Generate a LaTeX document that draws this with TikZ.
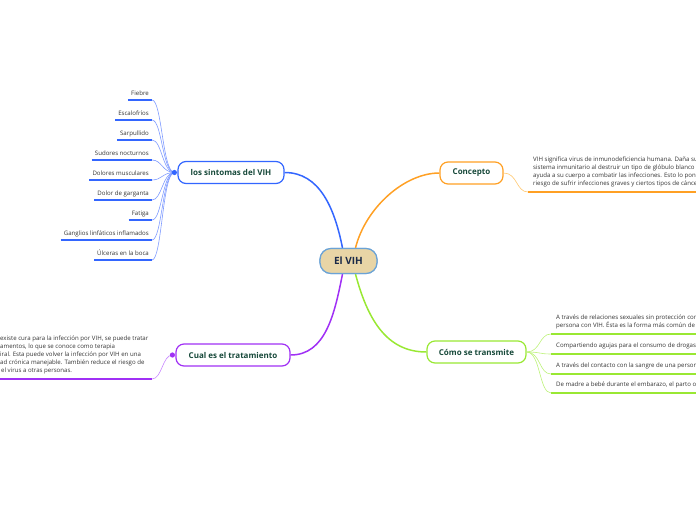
\documentclass[tikz,border=0pt]{standalone}
\usepackage{fontspec}
\setmainfont{Open Sans}
\definecolor{cblue}{HTML}{3366FF}
\definecolor{cbluel}{HTML}{7F9BFF}
\definecolor{corange}{HTML}{FFA024}
\definecolor{corangel}{HTML}{FFC870}
\definecolor{cpurple}{HTML}{A030F5}
\definecolor{cpurplel}{HTML}{C888FF}
\definecolor{cgreen}{HTML}{99E833}
\definecolor{cgreenl}{HTML}{BDF27A}
\definecolor{centerfill}{HTML}{E8D5A6}
\definecolor{centerdraw}{HTML}{6BA3D6}
\definecolor{titlegreen}{HTML}{17493A}
\definecolor{centertext}{HTML}{1A2A48}
\definecolor{textgray}{HTML}{333333}
\begin{document}
\begin{tikzpicture}[x=1pt,y=-1pt,
  topic/.style={draw, rounded corners=8pt, fill=white, line width=1.2pt,
    minimum height=22pt, inner sep=0pt, text=titlegreen,
    font=\fontsize{8}{9.5}\selectfont\bfseries},
  centre/.style={draw=centerdraw, fill=centerfill, rounded corners=11pt, line width=1.2pt,
    minimum width=57pt, minimum height=25pt, inner sep=0pt, text=centertext,
    font=\fontsize{10}{12}\selectfont\bfseries},
  sub/.style={font=\fontsize{6.1}{7.5}\selectfont, text=textgray, inner xsep=3pt,
    inner ysep=3pt, text height=4.4pt, text depth=1.5pt, anchor=south east},
  para/.style={font=\fontsize{6.1}{8.2}\selectfont, text=textgray, align=left,
    inner xsep=5pt, inner ysep=4.5pt, anchor=south west},
  mainline/.style={line width=1.5pt},
  childline/.style={line width=0.6pt},
  uline/.style={line width=1.4pt}]
\useasboundingbox (0,0) rectangle (696,520);
\clip (0,0) rectangle (696,520);

% central and main topics
\node[centre] (c) at (348.5,261) {El VIH};
\node[topic, draw=cblue, minimum width=106pt] (sint) at (231,172.5) {los sintomas del VIH};
\node[topic, draw=corange, minimum width=63pt] (conc) at (471.5,173) {Concepto};
\node[topic, draw=cpurple, minimum width=114pt] (trat) at (233,355) {Cual es el tratamiento};
\node[topic, draw=cgreen, minimum width=99pt] (trans) at (476.5,352) {Cómo se transmite};

\coordinate (cnw) at ([xshift=-6pt]c.north);
\coordinate (cne) at ([xshift=7pt]c.north);
\coordinate (csw) at ([xshift=-6pt]c.south);
\coordinate (cse) at ([xshift=7pt]c.south);

\draw[mainline, cblue] (cnw) .. controls +(-8,-40) and +(35,0) .. (sint.east);
\draw[mainline, corange] (cne) .. controls +(10,-40) and +(-35,0) .. (conc.west);
\draw[mainline, cpurple] (csw) .. controls +(-8,40) and +(35,0) .. (trat.east);
\draw[mainline, cgreen] (cse) .. controls +(12,45) and +(-40,0) .. (trans.west);
\node[centre] at (c) {El VIH};

% symptoms
\coordinate (sk) at ([xshift=-3pt]sint.west);
\node[sub] (s1) at (152,100) {Fiebre};
\node[sub] (s2) at (152,120) {Escalofríos};
\node[sub] (s3) at (152,140) {Sarpullido};
\node[sub] (s4) at (152,160) {Sudores nocturnos};
\node[sub] (s5) at (152,180) {Dolores musculares};
\node[sub] (s6) at (152,200) {Dolor de garganta};
\node[sub] (s7) at (152,220) {Fatiga};
\node[sub] (s8) at (152,240) {Ganglios linfáticos inflamados};
\node[sub] (s9) at (152,260) {Úlceras en la boca};
\foreach \n in {s1,s2,s3,s4,s5,s6,s7,s8,s9}{
  \draw[uline, cblue] (\n.south west) -- (\n.south east);
  \draw[childline, cbluel] (sk) .. controls +(-12,0) and +(10,0) .. (\n.south east);
}
\fill[cblue] (sk) circle (2.6pt);

% concept
\node[para] (ct) at (528,192) {VIH significa virus de inmunodeficiencia humana. Daña su\\
sistema inmunitario al destruir un tipo de glóbulo blanco que\\
ayuda a su cuerpo a combatir las infecciones. Esto lo pone\\
riesgo de sufrir infecciones graves y ciertos tipos de cáncer.};
\coordinate (ctend) at (700,192);
\draw[uline, corange] (ct.south west) -- (ctend);
\draw[childline, corangel] (conc.east) .. controls +(14,0) and +(-12,0) .. (ct.south west);

% treatment
\coordinate (tk) at ([xshift=-3pt]trat.west);
\node[para, inner xsep=0pt] (tt) at (0,379) {existe cura para la infección por VIH, se puede tratar\\
amentos, lo que se conoce como terapia\\
iral. Esta puede volver la infección por VIH en una\\
ad crónica manejable. También reduce el riesgo de\\
\hspace*{1pt}el virus a otras personas.};
\coordinate (ttend) at (152,379);
\draw[uline, cpurple] (tt.south west) -- (ttend);
\draw[childline, cpurplel] (tk) .. controls +(-10,0) and +(10,0) .. (ttend);
\fill[cpurple] (tk) circle (2.6pt);

% transmission
\node[para] (t1) at (551,334) {A través de relaciones sexuales sin protección con\\
persona con VIH. Ésta es la forma más común de};
\node[para] (t2) at (551,354) {Compartiendo agujas para el consumo de drogas};
\node[para] (t3) at (551,374) {A través del contacto con la sangre de una persona};
\node[para] (t4) at (551,393) {De madre a bebé durante el embarazo, el parto o};
\foreach \n/\yy in {t1/334,t2/354,t3/374,t4/393}{
  \coordinate (\n end) at (700,\yy);
  \draw[uline, cgreen] (\n.south west) -- (\n end);
  \draw[childline, cgreenl] (trans.east) .. controls +(14,0) and +(-12,0) .. (\n.south west);
}
\end{tikzpicture}
\end{document}
